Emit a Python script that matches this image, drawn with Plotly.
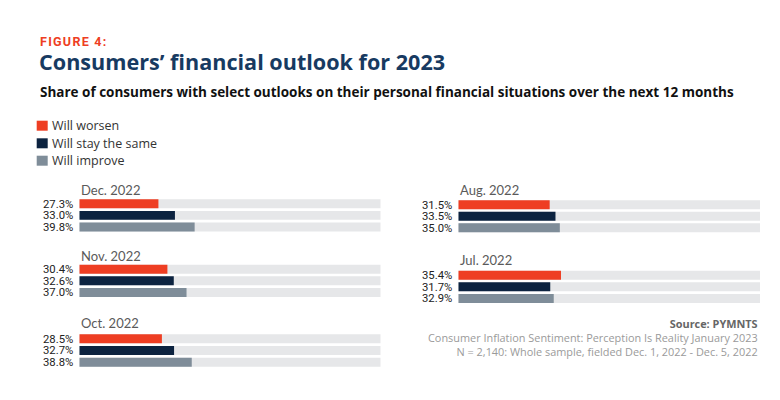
import plotly.graph_objects as go

# ---- data ----
periods = ["Dec. 2022", "Nov. 2022", "Oct. 2022", "Aug. 2022", "Jul. 2022"]
series_names = ["Will worsen", "Will stay the same", "Will improve"]
worsen = [27.3, 30.4, 28.5, 31.5, 35.4]
stay_same = [33.0, 32.6, 32.7, 33.5, 31.7]
improve = [39.8, 37.0, 38.8, 35.0, 32.9]
TRACK_MAX = 104  # full length of the light-grey background track (percent scale)

# ---- style ----
W, H = 780, 400
colors = ["#ee3e23", "#0c2340", "#7f8d99"]
track_color = "#e6e7e9"
num_font = "Roboto"
txt_font = "Open Sans"

# pixel layout of each panel: x0, x1, top, bottom, title y
panels = [
    (79.3, 380.7, 198.0, 232.8, 189.7),
    (79.3, 380.7, 263.4, 298.3, 256.0),
    (79.3, 380.7, 333.0, 368.0, 323.3),
    (458.3, 760.0, 198.9, 233.6, 189.7),
    (458.3, 760.0, 269.4, 304.3, 260.3),
]

def px(x):
    return x / W

def py(y):
    return 1 - y / H

fig = go.Figure()
layout = {}
annotations = []
shapes = []
bar_w = 0.77

for i, (period, (x0, x1, top, bot, ty)) in enumerate(zip(periods, panels)):
    n = i + 1
    xa = "x" if n == 1 else f"x{n}"
    ya = "y" if n == 1 else f"y{n}"
    vals = [worsen[i], stay_same[i], improve[i]]
    cats = [0, 1, 2]
    fig.add_trace(go.Bar(x=[TRACK_MAX] * 3, y=cats, orientation="h", width=bar_w,
                         marker=dict(color=track_color, line=dict(width=0)),
                         xaxis=xa, yaxis=ya, showlegend=False, hoverinfo="skip"))
    fig.add_trace(go.Bar(x=vals, y=cats, orientation="h", width=bar_w,
                         marker=dict(color=colors, line=dict(width=0)),
                         xaxis=xa, yaxis=ya, showlegend=False,
                         customdata=series_names,
                         hovertemplate="%{customdata}: %{x:.1f}%<extra>" + period + "</extra>"))
    layout[f"xaxis{n}"] = dict(domain=[px(x0), px(x1)], range=[0, TRACK_MAX], visible=False,
                               anchor=ya, fixedrange=True)
    layout[f"yaxis{n}"] = dict(domain=[py(bot), py(top)], range=[2.5, -0.5], anchor=xa,
                               tickvals=cats, ticktext=[f"{v:.1f}%" for v in vals],
                               showgrid=False, zeroline=False, showline=False, ticks="",
                               ticklabelstandoff=5,
                               tickfont=dict(family=num_font, size=11.3, color="#222"),
                               fixedrange=True)
    annotations.append(dict(x=px(x0), y=py(ty), xref="paper", yref="paper", text=period,
                            showarrow=False, xanchor="left", yanchor="middle",
                            font=dict(family="Lato", size=13, color="#5a5a5a")))

# headings
annotations += [
    dict(x=px(38), y=py(41), text="<b>F\u200aI\u200aG\u200aU\u200aR\u200aE\u2009 4\u200a:</b>", showarrow=False,
         xanchor="left", yanchor="middle", xref="paper", yref="paper",
         font=dict(family="Roboto", size=12.5, color="#ee3e23")),
    dict(x=px(37), y=py(61.3), text="<b>Consumers’ financial outlook for 2023</b>", showarrow=False,
         xanchor="left", yanchor="middle", xref="paper", yref="paper",
         font=dict(family="Open Sans", size=21.6, color="#173a61")),
    dict(x=px(38), y=py(91.5),
         text="<b>Share of consumers with select outlooks on their personal financial situations over the next 12 months</b>",
         showarrow=False, xanchor="left", yanchor="middle", xref="paper", yref="paper",
         font=dict(family="Open Sans", size=13.5, color="#111")),
]

# legend
leg_y = [125.7, 143.3, 160.7]
for name, c, ly in zip(series_names, colors, leg_y):
    shapes.append(dict(type="rect", xref="paper", yref="paper", x0=px(36.7), x1=px(47.7),
                       y0=py(ly + 5), y1=py(ly - 5), fillcolor=c, line=dict(width=0)))
    annotations.append(dict(x=px(50), y=py(ly), text=name, showarrow=False, xanchor="left",
                            yanchor="middle", xref="paper", yref="paper",
                            font=dict(family=txt_font, size=12.5, color="#333")))

# source (one right-aligned block)
source_lines = [
    "<span style='color:#666'><b>Source: PYMNTS</b></span>",
    "Consumer Inflation Sentiment: Perception Is Reality January 2023",
    "N = 2,140: Whole sample, fielded Dec. 1, 2022 - Dec. 5, 2022",
]
annotations.append(dict(x=px(759.5), y=py(337), text="<br>".join(source_lines), showarrow=False,
                        xanchor="right", yanchor="middle", align="right", xref="paper", yref="paper",
                        font=dict(family="Open Sans", size=10.9, color="#9a9a9a")))

fig.update_layout(width=W, height=H, margin=dict(l=0, r=0, t=0, b=0),
                  paper_bgcolor="white", plot_bgcolor="white", barmode="overlay",
                  showlegend=False, annotations=annotations, shapes=shapes, **layout)

fig.write_html("out.html", config={"displayModeBar": False},
               post_script="document.body.style.margin='0';document.body.style.padding='0';")
